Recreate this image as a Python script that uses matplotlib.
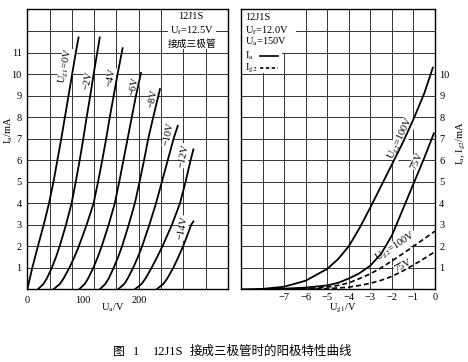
import matplotlib
matplotlib.use('Agg')
import matplotlib.pyplot as plt
import numpy as np
from matplotlib.patches import Rectangle

plt.rcParams['font.family'] = ['Liberation Serif', 'Noto Sans CJK SC']
plt.rcParams['mathtext.fontset'] = 'stix'
plt.rcParams['font.size'] = 7.5

# left panel: anode characteristics, one curve per grid voltage
ua_g0 = [0, 9, 19, 29.5, 39, 47, 54, 61, 67.5, 74, 80.5, 87, 92]
ia_g0 = [0, 1, 2, 3, 4, 5, 6, 7, 8, 9, 10, 11, 11.7]

ua_g2 = [19, 29, 35, 44, 51.5, 58, 69.5, 79.5, 87, 94, 100.5, 106.5, 113, 119, 125.5, 130]
ia_g2 = [0, 0.25, 0.5, 1, 1.5, 2, 3, 4, 5, 6, 7, 8, 9, 10, 11, 11.7]

ua_g4 = [47, 58.5, 65, 75.5, 84.5, 92.5, 106.5, 119, 127, 134.5, 141.5, 148, 155, 162, 171]
ia_g4 = [0, 0.25, 0.5, 1, 1.5, 2, 3, 4, 5, 6, 7, 8, 9, 10, 11.2]

ua_g6 = [93, 103, 109, 118.5, 126.5, 133.5, 146, 157, 165, 172.5, 180, 187.5, 195, 204]
ia_g6 = [0, 0.25, 0.5, 1, 1.5, 2, 3, 4, 5, 6, 7, 8, 9, 10.05]

ua_g8 = [130, 140, 146, 155, 163, 170, 182, 193, 201.5, 209.5, 217, 226, 238]
ia_g8 = [0, 0.25, 0.5, 1, 1.5, 2, 3, 4, 5, 6, 7, 8, 9.3]

ua_g10 = [163, 174, 180, 190, 198.5, 206, 219, 231, 241.5, 252, 262.5, 270]
ia_g10 = [0, 0.25, 0.5, 1, 1.5, 2, 3, 4, 5, 6, 7, 7.6]

ua_g12 = [193, 205, 212, 223, 233, 242.5, 259.5, 274, 284, 293, 298]
ia_g12 = [0, 0.25, 0.5, 1, 1.5, 2, 3, 4, 5, 6, 6.5]

ua_g14 = [232, 244, 251, 262, 271, 279.5, 287, 294, 298]
ia_g14 = [0, 0.25, 0.5, 1, 1.5, 2, 2.5, 3, 3.15]

grid_labels = [r'U$_{\rm g1}$=0V', '−2V', '−4V', '−6V', '−8V', '−10V', '−12V', '−14V']
label_pos = [(70, 10.35), (108, 9.7), (150, 9.85), (192, 9.45),
             (226, 8.85), (254, 7.2), (281, 6.2), (279, 2.85)]

# right panel: transfer characteristics
ug1_a100 = [-9, -8, -7, -6, -5, -4.5, -4, -3.5, -3, -2.5, -2, -1.5, -1, -0.5, -0.1]
ia_a100 = [0, 0.02, 0.12, 0.4, 0.95, 1.4, 2.0, 2.85, 3.8, 4.8, 5.8, 6.8, 7.9, 9.1, 10.3]

ug1_a75 = [-8, -7, -6, -5, -4.5, -4, -3.5, -3, -2.5, -2, -1.5, -1, -0.5, -0.05]
ia_a75 = [0, 0.03, 0.08, 0.18, 0.3, 0.5, 0.75, 1.1, 1.65, 2.5, 3.7, 4.9, 6.1, 7.25]

ug1_s100 = [-8, -6, -5, -4.5, -4, -3.5, -3, -2.5, -2, -1.5, -1, -0.5, 0]
ig2_s100 = [0, 0.02, 0.1, 0.18, 0.3, 0.5, 0.72, 1.0, 1.32, 1.65, 2.0, 2.35, 2.7]

ug1_s75 = [-7, -5, -4, -3.5, -3, -2.5, -2, -1.5, -1, -0.5, 0]
ig2_s75 = [0, 0.03, 0.1, 0.18, 0.28, 0.42, 0.6, 0.85, 1.13, 1.43, 1.75]

fig = plt.figure(figsize=(4.68, 3.62), dpi=100)
ax1 = fig.add_axes([0.0583, 0.2008, 0.4288, 0.773])
ax2 = fig.add_axes([0.515, 0.2008, 0.4145, 0.773])

gridkw = dict(color='#333333', linewidth=0.7, zorder=1)
lblbox = dict(facecolor='white', edgecolor='none', pad=0.4)

######## left
ax1.set_xlim(0, 360)
ax1.set_ylim(0, 13)
ax1.set_xticks([0, 100, 200])
ax1.set_yticks(np.arange(1, 12))
for v in np.arange(40, 360, 40):
    ax1.axvline(v, **gridkw)
for i in np.arange(1, 13):
    ax1.axhline(i, **gridkw)
ax1.tick_params(which='both', length=0)
ax1.tick_params(axis='x', pad=5)
ax1.tick_params(axis='y', pad=4)
ax1.add_patch(Rectangle((252, 11.15), 87, 1.85, facecolor='white', edgecolor='none', zorder=1.5))

curves = [(ua_g0, ia_g0), (ua_g2, ia_g2), (ua_g4, ia_g4), (ua_g6, ia_g6),
          (ua_g8, ia_g8), (ua_g10, ia_g10), (ua_g12, ia_g12), (ua_g14, ia_g14)]
for ua, ia in curves:
    ax1.plot(ua, ia, color='black', linewidth=1.3, zorder=3)
for lab, (x, y) in zip(grid_labels, label_pos):
    ax1.text(x, y, lab, rotation=78, ha='center', va='center', fontsize=7.5,
             zorder=2.5, bbox=lblbox)

ax1.text(294, 12.68, '12J1S', ha='center', va='center', fontsize=7.5, zorder=4)
ax1.text(296, 12.02, r'U$_{\rm f}$=12.5V', ha='center', va='center', fontsize=7.5, zorder=4)
ax1.text(296, 11.42, '接成三极管', ha='center', va='center', fontsize=7, zorder=4)

ax1.set_ylabel(r'I$_{\rm a}$/mA')
ax1.yaxis.set_label_coords(-0.062, 0.569)
ax1.set_xlabel(r'U$_{\rm a}$/V')
ax1.xaxis.set_label_coords(0.4285, -0.045)

######## right
ax2.set_xlim(-9, 0)
ax2.set_ylim(0, 13)
ax2.set_xticks(np.arange(-7, 1))
ax2.set_xticklabels(['−7', '−6', '−5', '−4', '−3', '−2', '−1', '0'])
ax2.yaxis.tick_right()
ax2.set_yticks(np.arange(1, 11))
for v in np.arange(-8, 0):
    ax2.axvline(v, **gridkw)
for i in np.arange(1, 13):
    ax2.axhline(i, **gridkw)
ax2.tick_params(which='both', length=0)
ax2.tick_params(axis='x', pad=3)
ax2.tick_params(axis='y', pad=3)
ax2.add_patch(Rectangle((-9, 10.97), 2.55, 2.03, facecolor='white', edgecolor='none', zorder=1.5))
ax2.add_patch(Rectangle((-9, 10.05), 1.9, 1.0, facecolor='white', edgecolor='none', zorder=1.5))

ax2.plot(ug1_a100, ia_a100, color='black', linewidth=1.3, zorder=3)
ax2.plot(ug1_a75, ia_a75, color='black', linewidth=1.3, zorder=3)
ax2.plot(ug1_s100, ig2_s100, color='black', linewidth=1.2, linestyle=(0, (3, 1.8)), zorder=3)
ax2.plot(ug1_s75, ig2_s75, color='black', linewidth=1.2, linestyle=(0, (3, 1.8)), zorder=3)

ax2.text(-1.56, 7.02, r'U$_{\rm g2}$=100V', rotation=64, ha='center', va='center',
         fontsize=7.5, zorder=2.5, bbox=lblbox)
ax2.text(-0.86, 5.98, '75V', rotation=65, ha='center', va='center',
         fontsize=7.5, zorder=2.5, bbox=lblbox)
ax2.text(-1.8, 1.95, r'U$_{\rm g2}$=100V', rotation=33, ha='center', va='center',
         fontsize=7.5, zorder=2.5, bbox=lblbox)
ax2.text(-1.49, 1.1, '75V', rotation=28, ha='center', va='center',
         fontsize=7.5, zorder=2.5, bbox=lblbox)

ax2.text(-8.82, 12.63, '12J1S', ha='left', va='center', fontsize=7.5, zorder=4)
ax2.text(-8.82, 12.0, r'U$_{\rm f}$=12.0V', ha='left', va='center', fontsize=7.5, zorder=4)
ax2.text(-8.82, 11.48, r'U$_{\rm a}$=150V', ha='left', va='center', fontsize=7.5, zorder=4)
ax2.text(-8.82, 10.86, r'I$_{\rm a}$', ha='left', va='center', fontsize=7.5, zorder=4)
ax2.text(-8.82, 10.28, r'I$_{\rm g2}$', ha='left', va='center', fontsize=7.5, zorder=4)
ax2.plot([-8.14, -7.3], [10.86, 10.86], color='black', linewidth=1.2, zorder=4)
ax2.plot([-8.14, -7.3], [10.28, 10.28], color='black', linewidth=1.2, linestyle=(0, (2, 1.5)), zorder=4)

ax2.set_ylabel(r'I$_{\rm a}$, I$_{\rm g2}$/mA', rotation=90)
ax2.yaxis.set_label_position('right')
ax2.yaxis.set_label_coords(1.105, 0.523)
ax2.set_xlabel(r'U$_{\rm g1}$/V')
ax2.xaxis.set_label_coords(0.523, -0.044)

for ax in (ax1, ax2):
    for s in ax.spines.values():
        s.set_linewidth(1.0)
        s.set_zorder(5)

# caption
fig.text(113 / 468, 0.0285, '图', ha='left', va='center', fontsize=8.5)
fig.text(133 / 468, 0.0285, '1', ha='left', va='center', fontsize=9)
fig.text(153 / 468, 0.0285, '12J1S', ha='left', va='center', fontsize=9)
fig.text(190 / 468, 0.0285, '接成三极管时的阳极特性曲线', ha='left', va='center', fontsize=9)

plt.savefig('out.png', dpi=100)
